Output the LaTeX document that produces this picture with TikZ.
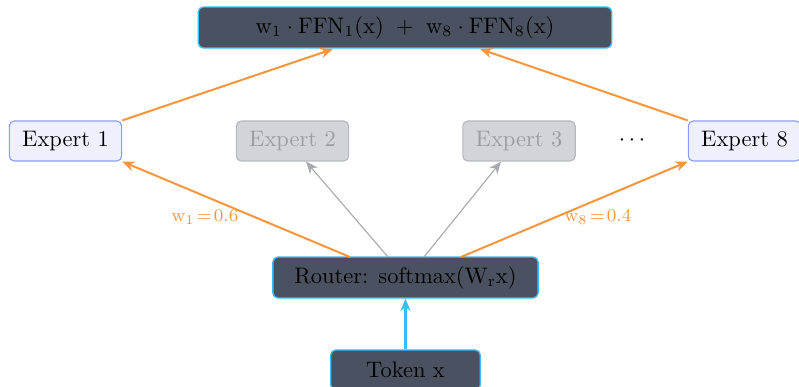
\documentclass[tikz,border=0pt]{standalone}
\usetikzlibrary{arrows.meta}
\definecolor{darkfill}{HTML}{4A5160}
\definecolor{skyline}{HTML}{38BDF8}
\definecolor{orangeA}{HTML}{F7963C}
\definecolor{activefill}{HTML}{EEF0FE}
\definecolor{activeline}{HTML}{8C9CF5}
\definecolor{mutedfill}{HTML}{D2D4D9}
\definecolor{mutedline}{HTML}{B6B9BF}
\definecolor{mutedtext}{HTML}{9A9DA3}
\definecolor{grayarrow}{HTML}{A6A9AF}
\tikzset{
  darkbox/.style={draw=skyline, fill=darkfill, rounded corners=2.2pt, line width=0.6pt, inner sep=0pt, text=black},
  activebox/.style={draw=activeline, fill=activefill, rounded corners=2.2pt, line width=0.5pt, minimum width=50pt, minimum height=17.8pt, inner sep=0pt},
  mutedbox/.style={draw=mutedline, fill=mutedfill, rounded corners=2.2pt, line width=0.5pt, minimum width=50pt, minimum height=17.8pt, inner sep=0pt, text=mutedtext},
  oarrow/.style={draw=orangeA, line width=0.9pt, -{Stealth[length=5.5pt,width=4.5pt]}},
  garrow/.style={draw=grayarrow, line width=0.5pt, -{Stealth[length=5.5pt,width=4.5pt]}},
  barrow/.style={draw=skyline, line width=0.9pt, -{Stealth[length=5.5pt,width=4.5pt]}},
  wlabel/.style={text=orangeA, font=\footnotesize},
}
\begin{document}
\begin{tikzpicture}[x=0.445pt, y=-0.445pt]
\useasboundingbox (0,0) rectangle (799,387);
\node[darkbox, minimum width=184pt, minimum height=18.2pt] (out) at (405,27.5) {$\mathrm{w}_1\cdot\mathrm{FFN}_1(\mathrm{x})\ +\ \mathrm{w}_8\cdot\mathrm{FFN}_8(\mathrm{x})$};
\node[activebox] (e1) at (65.5,141) {Expert 1};
\node[mutedbox] (e2) at (292.5,141) {Expert 2};
\node[mutedbox] (e3) at (519,141) {Expert 3};
\node (dots) at (632,141) {$\cdots$};
\node[activebox] (e8) at (744.5,141) {Expert 8};
\node[darkbox, minimum width=118pt, minimum height=18.2pt] (router) at (405.5,277.5) {Router: softmax$(\mathrm{W}_\mathrm{r}\mathrm{x})$};
\node[darkbox, minimum width=66.5pt, minimum height=17.8pt] (token) at (405.5,370) {Token x};
\coordinate (r1) at (350,257);
\coordinate (r2) at (388,257);
\coordinate (r3) at (424,257);
\coordinate (r8) at (461,257);
\coordinate (o1) at (333,49);
\coordinate (o8) at (480,49);
\draw[oarrow] (r1) -- (e1.south east);
\draw[garrow] (r2) -- ([xshift=6pt]e2.south);
\draw[garrow] (r3) -- ([xshift=-8pt]e3.south);
\draw[oarrow] (r8) -- (e8.south west);
\draw[oarrow] (e1.north east) -- (o1);
\draw[oarrow] (e8.north west) -- (o8);
\draw[barrow] (token) -- (router);
\node[wlabel] (l1) at (205,217) {$\mathrm{w}_1\!=\!0.6$};
\node[wlabel] (l8) at (598,217) {$\mathrm{w}_8\!=\!0.4$};
\end{tikzpicture}
\end{document}
